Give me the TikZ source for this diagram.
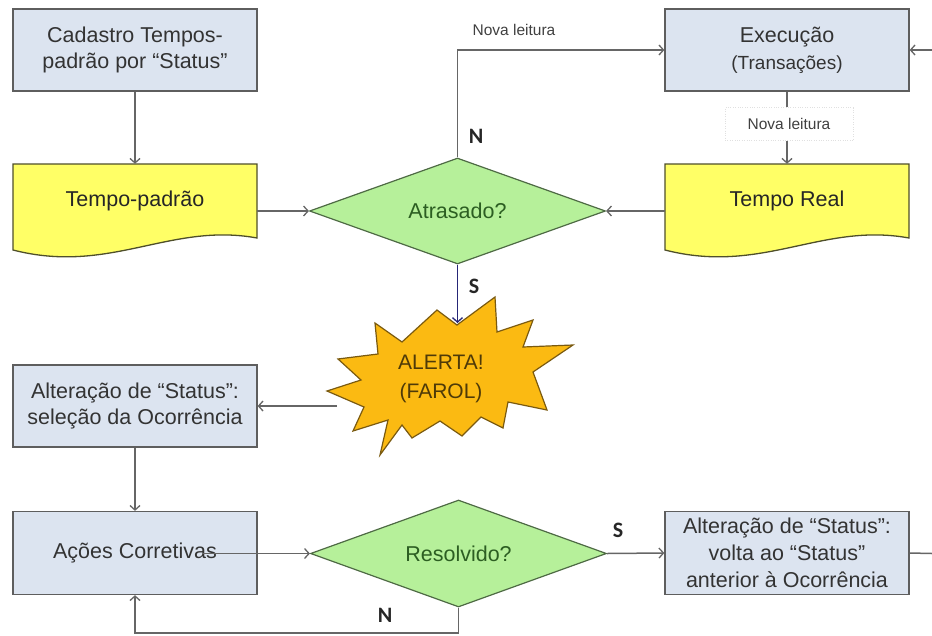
\documentclass[tikz,border=0pt]{standalone}
\usepackage{fontspec}
\setmainfont{Liberation Sans}
\newfontfamily\lblfont{Carlito}
\usetikzlibrary{shapes.geometric,arrows.meta,calc}
\definecolor{boxfill}{HTML}{DCE4F0}
\definecolor{boxline}{HTML}{5E5E5E}
\definecolor{boxtext}{HTML}{333333}
\definecolor{docfill}{HTML}{FFFF66}
\definecolor{docline}{HTML}{4F4F2A}
\definecolor{dfill}{HTML}{B6F09A}
\definecolor{dline}{HTML}{4E6A44}
\definecolor{dtext}{HTML}{2C5E22}
\definecolor{burstfill}{HTML}{FBBA12}
\definecolor{burstline}{HTML}{7A5A10}
\definecolor{bursttext}{HTML}{4E3A08}
\definecolor{conncol}{HTML}{666666}
\begin{document}
\begin{tikzpicture}[x=1pt,y=-1pt,
  procbox/.style={draw=boxline, fill=boxfill, line width=1.3pt, minimum width=244pt,
    minimum height=82pt, inner sep=0pt, align=center, text=boxtext,
    font=\fontsize{21.5}{26.7}\selectfont},
  doctext/.style={rectangle, minimum width=244pt, minimum height=74pt, inner sep=0pt,
    text=black!85, font=\fontsize{21.5}{26}\selectfont},
  docshape/.style={draw=docline, fill=docfill, line width=1.3pt},
  decision/.style={diamond, draw=dline, fill=dfill, line width=1.2pt,
    minimum width=296pt, minimum height=106pt, inner sep=0pt, aspect=2.8,
    text=dtext, font=\fontsize{21.5}{26}\selectfont},
  burst/.style={draw=burstline, fill=burstfill, line width=1.2pt, line join=miter},
  bursttxt/.style={align=center, text=bursttext, inner sep=0pt,
    font=\fontsize{21}{29}\selectfont},
  conn/.style={draw=conncol, line width=1.5pt},
  arr/.style={conn, -{Straight Barb[length=4.5pt,width=10pt,line width=1.3pt]}},
  yn/.style={font=\lblfont\bfseries\fontsize{22}{24}\selectfont, text=black!85, inner sep=0pt},
  small/.style={font=\fontsize{15.5}{18}\selectfont, text=black!75, inner sep=0pt},
  smallbox/.style={small, draw=black!12, dotted, fill=white, minimum width=128pt, minimum height=33pt}
]
\useasboundingbox (0,0) rectangle (932,635);

% process boxes
\node[procbox] (cad) at (135,50) {Cadastro Tempos-\\padrão por “Status”};
\node[procbox] (ex) at (787,50) {Execução\\{\fontsize{19}{25}\selectfont(Transações)}};
\node[procbox] (alt1) at (135,406) {Alteração de “Status”:\\seleção da Ocorrência};
\node[procbox, minimum height=83pt] (ac) at (135,553) {Ações Corretivas};
\node[procbox, minimum height=83pt] (alt2) at (787,553) {Alteração de “Status”:\\volta ao “Status”\\anterior à Ocorrência};

% documents
\draw[docshape] (13,164) -- (257,164) -- (257,238)
  .. controls (170,222) and (110,275) .. (13,250) -- cycle;
\node[doctext] (tp) at (135,201) {Tempo-padrão};
\draw[docshape] (665,164) -- (909,164) -- (909,238)
  .. controls (822,222) and (762,275) .. (665,250) -- cycle;
\node[doctext] (tr) at (787,201) {Tempo Real};

% decisions
\node[decision] (at) at (457.5,211) {Atrasado?};
\node[decision, minimum height=107pt] (rs) at (458.5,553.5) {Resolvido?};

% starburst
\draw[burst] (375,323) -- (402,342) -- (437,310) -- (457,325) -- (495,297)
  -- (497,332) -- (533,320) -- (523,347) -- (573,345) -- (533,372)
  -- (547,410) -- (508,402) -- (503,428) -- (481,417) -- (462,436)
  -- (440,421) -- (412,438) -- (402,425) -- (380,455) -- (388,420)
  -- (353,431) -- (364,407) -- (327,391) -- (361,380) -- (338,359)
  -- (378,354) -- cycle;
\node[bursttxt] (alert) at (441,379) {ALERTA!\\(FAROL)};
\coordinate (alertTop) at (457.5,323);
\coordinate (alertLeft) at (337,406);

% labels
\node[small] (nl1) at (514,30) {Nova leitura};
\node[smallbox] (nl2) at (789,124) {Nova leitura};
\node[yn] (n1) at (476,136) {N};
\node[yn] (s1) at (474,286) {S};
\node[yn] (s2) at (618,530) {S};
\node[yn] (n2) at (385,615) {N};

% edge coordinates
\coordinate (re1) at (932,50);
\coordinate (re2) at (932,553.5);
\coordinate (acs) at (203,553.5);
\coordinate (bot) at (0,633);

% connectors
\draw[arr] (cad.south) -- (tp.north);
\draw[arr] (tp.east |- at.west) -- (at.west);
\draw[arr] (tr.west |- at.east) -- (at.east);
\draw[arr] (at.north) |- (ex.west);
\draw[conn] (ex.south) -- (ex.south |- nl2.north);
\draw[arr] (ex.south |- nl2.south) -- (tr.north);
\draw[arr] (re1) -- (ex.east);
\draw[arr, draw=black!55!blue!70!gray] (at.south) -- (alertTop);
\draw[arr] (alertLeft) -- (alt1.east);
\draw[arr] (alt1.south) -- (ac.north);
\draw[arr] (acs) -- (rs.west);
\draw[arr] (rs.east) -- (alt2.west);
\draw[conn] (alt2.east) -- (re2);
\draw[arr] (rs.south) -- (rs.south |- bot) -| (ac.south);
\end{tikzpicture}
\end{document}
